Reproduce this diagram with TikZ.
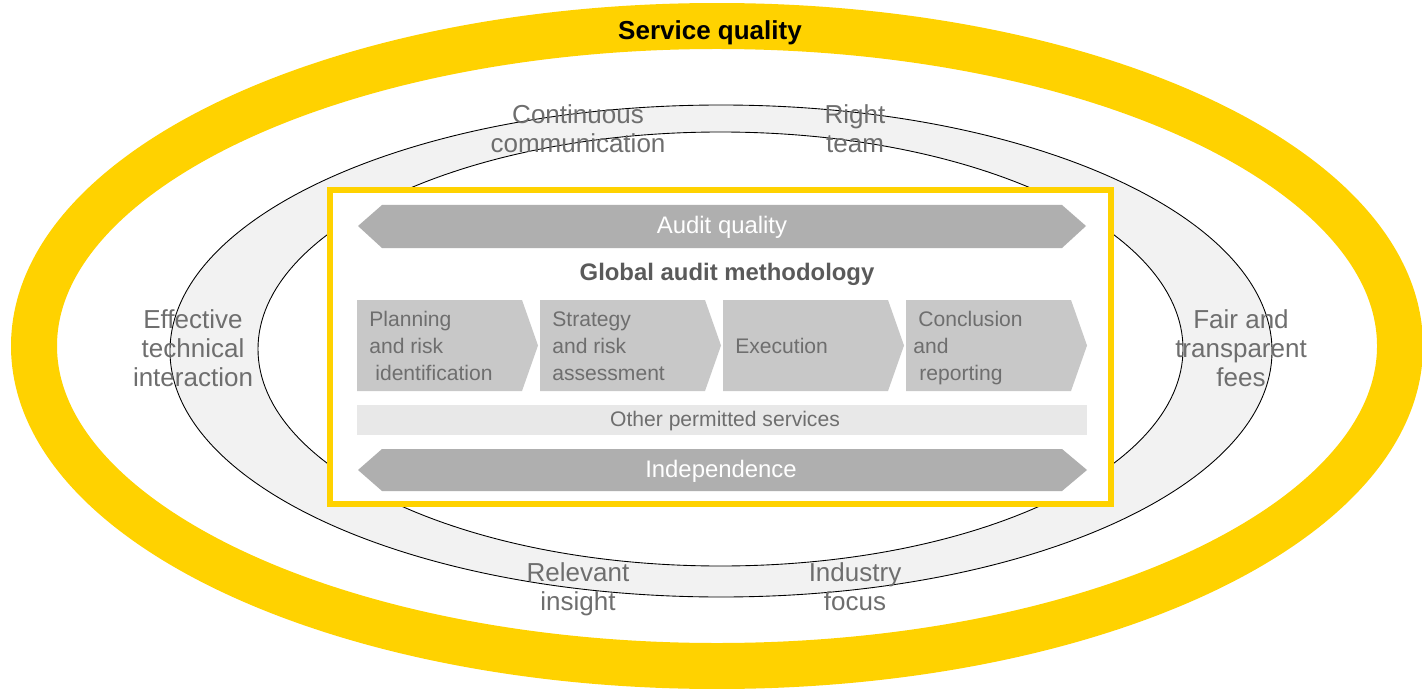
\documentclass[tikz,border=0pt]{standalone}
\usepackage{fontspec}
\setmainfont{Liberation Sans}
\usepackage{xcolor}

\definecolor{eyyellow}{HTML}{FFD200}
\definecolor{bandgray}{HTML}{F2F2F2}
\definecolor{bannergray}{HTML}{AFAFAF}
\definecolor{chevgray}{HTML}{C8C8C8}
\definecolor{othergray}{HTML}{E8E8E8}
\definecolor{labelgray}{HTML}{6E6E6E}
\definecolor{darkgray}{HTML}{5A5A5A}

\begin{document}
\begin{tikzpicture}[x=0.02cm, y=-0.02cm,
    ringlabel/.style={text=labelgray, align=center, inner sep=0, font=\fontsize{14.8}{16.5}\selectfont},
    bannertext/.style={text=white, inner sep=0, font=\fontsize{13.6}{15}\selectfont},
    chevron/.style={fill=chevgray},
    chevtext/.style={anchor=west, inner sep=0, align=left, text=labelgray, font=\fontsize{12}{15.4}\selectfont}]
    \useasboundingbox (0,0) rectangle (1422,689);

    % outer ring
    \draw[eyyellow, line width=0.92cm] (717,346) ellipse [x radius=683, y radius=320];
    \node[font=\bfseries\fontsize{14.8}{16.5}\selectfont, inner sep=0] (svc) at (710,33) {Service quality};

    % grey band
    \fill[bandgray, even odd rule] (721,351) ellipse [x radius=551, y radius=246]
        (720.5,349) ellipse [x radius=462.5, y radius=217];
    \draw[line width=0.5pt] (721,351) ellipse [x radius=551, y radius=246];
    \draw[line width=0.5pt] (720.5,349) ellipse [x radius=462.5, y radius=217];

    \node[ringlabel] (comm) at (578,128.5) {Continuous\\communication};
    \node[ringlabel] (team) at (855,128.5) {Right\\team};
    \node[ringlabel] (tech) at (193,348) {Effective\\technical\\interaction};
    \node[ringlabel] (fees) at (1241,348) {Fair and\\transparent\\fees};
    \node[ringlabel] (insight) at (578,589.5) {Relevant\\insight};
    \node[ringlabel] (focus) at (855,586.5) {Industry\\focus};

    % methodology box
    \draw[eyyellow, line width=0.12cm, fill=white] (330,190) rectangle (1111,504);

    \fill[bannergray] (358,226) -- (382,205) -- (1062,205) -- (1086,226) -- (1062,248) -- (382,248) -- cycle;
    \node[bannertext] (aq) at (722,227) {Audit quality};

    \node[text=darkgray, inner sep=0, font=\bfseries\fontsize{13.6}{15}\selectfont] (gam) at (727,274) {Global audit methodology};

    \fill[chevron] (357,300) -- (522,300) -- (538,345.5) -- (522,391) -- (357,391) -- cycle;
    \node[chevtext] (plan) at (369,346) {Planning\\and risk\\\hspace*{0.12cm}identification};

    \fill[chevron] (540,300) -- (705,300) -- (721,345.5) -- (705,391) -- (540,391) -- cycle;
    \node[chevtext] (strat) at (552,346) {Strategy\\and risk\\assessment};

    \fill[chevron] (723,300) -- (888,300) -- (904,345.5) -- (888,391) -- (723,391) -- cycle;
    \node[chevtext] (exec) at (735,346) {Execution};

    \fill[chevron] (906,300) -- (1071,300) -- (1087,345.5) -- (1071,391) -- (906,391) -- cycle;
    \node[chevtext] (concl) at (913,348) {\hspace*{0.1cm}Conclusion\\and\\\hspace*{0.12cm}reporting};

    \fill[othergray] (357,405) rectangle (1087,435);
    \node[text=labelgray, inner sep=0, font=\fontsize{12}{14}\selectfont] (other) at (725,421) {Other permitted services};

    \fill[bannergray] (358,470) -- (382,449) -- (1062,449) -- (1087,470) -- (1062,491) -- (382,491) -- cycle;
    \node[bannertext] (indep) at (721,471) {Independence};
\end{tikzpicture}
\end{document}
